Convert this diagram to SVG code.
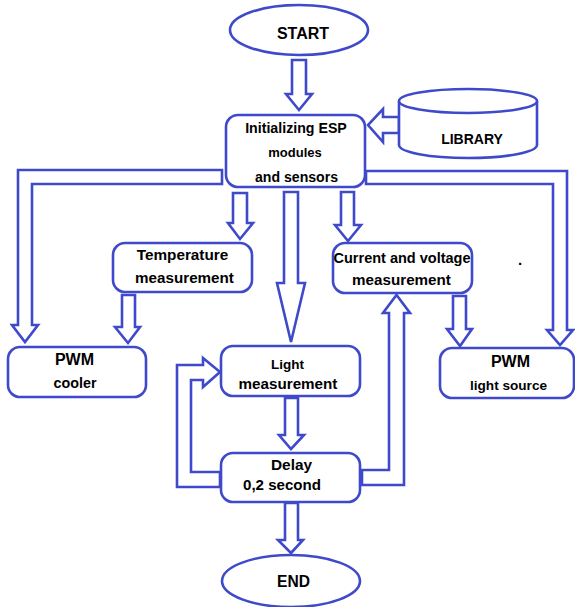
<svg xmlns="http://www.w3.org/2000/svg" width="575" height="607" viewBox="0 0 575 607">
<style>
.s{fill:#fff;stroke:#3f4acb;stroke-width:2.6;stroke-linejoin:miter}
.t{font-family:"Liberation Sans",Arial,sans-serif;font-weight:bold;fill:#000;text-anchor:middle}
</style>
<rect width="575" height="607" fill="#fff"/>
<g id="connectors">
<polygon class="s" points="292,60 306,60 306,94 312,94 299,110 286,94 292,94"/>
<polygon class="s" points="399,117 383,117 383,109 368,125 383,142 383,133 399,133"/>
<polygon class="s" points="222,170 18,170 18,325 12,325 25,342 38,325 32,325 32,184 222,184"/>
<polygon class="s" points="366,171 567,171 567,330 573,330 560,345 547,330 553,330 553,184 366,184"/>
<polygon class="s" points="233,193 247,193 247,223 253,223 240,239 228,223 233,223"/>
<polygon class="s" points="284,192 298,192 298,283 305,283 291,342 277,283 284,283"/>
<polygon class="s" points="341,192 354,192 354,225 361,225 348,241 335,225 341,225"/>
<polygon class="s" points="122,295 135,295 135,327 140,327 128,343 115,327 122,327"/>
<polygon class="s" points="453,296 466,296 466,329 472,329 460,346 447,329 453,329"/>
<polygon class="s" points="285,398 298,398 298,435 304,435 291,449 279,435 285,435"/>
<polygon class="s" points="285,503 298,503 298,540 303,540 291,553 278,540 285,540"/>
<polygon class="s" points="362,470 389,470 389,313 383,313 396.5,295 410,313 404,313 404,485 362,485"/>
<polygon class="s" points="220,472 191,472 191,380 203,380 203,387 220,372 203,358 203,365 177,365 177,487 220,487"/>
</g>
<g id="start">
<ellipse class="s" cx="299" cy="30" rx="69" ry="25"/>
<text class="t" x="303" y="39" font-size="16">START</text>
</g>
<g id="init">
<rect class="s" x="226" y="115" width="139" height="72" rx="12"/>
<text class="t" x="296" y="133" font-size="14.2">Initializing ESP</text>
<text class="t" x="295" y="157" font-size="13">modules</text>
<text class="t" x="296.5" y="182" font-size="14.1">and sensors</text>
</g>
<g id="library">
<path class="s" d="M399,101 A69,12 0 0,1 537,101 L537,145 A69,13 0 0,1 399,145 Z"/>
<path class="s" fill="none" d="M399,101 A69,12 0 0,0 537,101"/>
<text class="t" x="472" y="144" font-size="14">LIBRARY</text>
</g>
<g id="temperature">
<rect class="s" x="113" y="243" width="139" height="49" rx="12"/>
<text class="t" x="182.5" y="260" font-size="15.3">Temperature</text>
<text class="t" x="184.5" y="283" font-size="15.2">measurement</text>
</g>
<g id="current">
<rect class="s" x="333" y="243" width="139" height="50" rx="12"/>
<text class="t" x="402" y="263" font-size="14.5">Current and voltage</text>
<text class="t" x="401.5" y="285" font-size="15.2">measurement</text>
</g>
<text class="t" x="520" y="265" font-size="15">.</text>
<g id="pwm-cooler">
<rect class="s" x="8" y="347" width="138" height="50" rx="12"/>
<text class="t" x="74.5" y="365" font-size="16">PWM</text>
<text class="t" x="75" y="388" font-size="14.3">cooler</text>
</g>
<g id="light">
<rect class="s" x="221" y="346" width="139" height="50" rx="12"/>
<text class="t" x="287.5" y="369" font-size="13.5">Light</text>
<text class="t" x="288" y="389" font-size="15.2">measurement</text>
</g>
<g id="pwm-light">
<rect class="s" x="440" y="348" width="134" height="50" rx="12"/>
<text class="t" x="510.5" y="367" font-size="16">PWM</text>
<text class="t" x="508.5" y="390" font-size="13.6">light source</text>
</g>
<g id="delay">
<rect class="s" x="221" y="453" width="139" height="49" rx="12"/>
<text class="t" x="291.5" y="470" font-size="15.4">Delay</text>
<text class="t" x="282" y="490" font-size="15.1">0,2 second</text>
</g>
<g id="end">
<ellipse class="s" cx="291" cy="581" rx="69" ry="26"/>
<text class="t" x="293.5" y="587" font-size="15.6">END</text>
</g>
</svg>
